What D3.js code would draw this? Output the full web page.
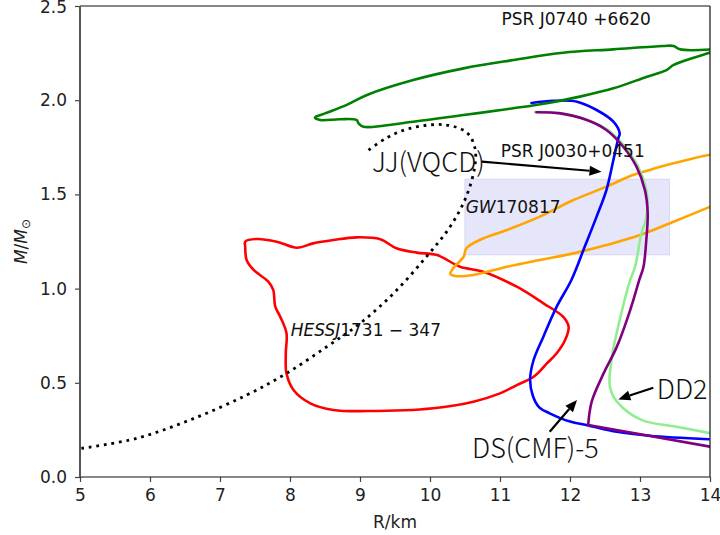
<!DOCTYPE html>
<html><head><meta charset="utf-8">
<script src="https://cdn.jsdelivr.net/npm/d3@7"></script>
<style>
body{margin:0;background:#fff;}
svg{display:block;}
</style></head>
<body>
<svg id="chart" width="720" height="535"></svg>
<script>
// ---------------- data (R in km, M in solar masses) ----------------
const xTicks = [5, 6, 7, 8, 9, 10, 11, 12, 13, 14];
const yTicks = [0.0, 0.5, 1.0, 1.5, 2.0, 2.5];

const jjVQCD = [[5.02,0.152],[5.81,0.205],[6.62,0.31],[7.38,0.435],[7.95,0.55],[8.52,0.69],[9.0,0.815],[9.48,0.975],[9.95,1.17],[10.29,1.33],[10.52,1.49],[10.64,1.65],[10.64,1.75],[10.52,1.83],[10.19,1.87],[9.71,1.85],[9.38,1.80],[9.07,1.72]];

const psrJ0740 = [[14.05,2.27],[13.57,2.27],[13.48,2.288],[13.33,2.288],[12.62,2.27],[11.90,2.252],[11.19,2.213],[10.48,2.169],[9.76,2.107],[9.10,2.028],[8.81,1.975],[8.50,1.93],[8.357,1.909],[8.43,1.895],[8.71,1.899],[8.95,1.895],[8.98,1.877],[9.05,1.859],[9.76,1.886],[10.48,1.921],[11.19,1.957],[11.67,1.984],[12.14,2.019],[12.62,2.063],[13.10,2.125],[13.38,2.16],[13.48,2.187],[13.98,2.25],[14.05,2.258]];

const psrJ0030 = [[14.05,1.712],[13.98,1.709],[13.48,1.665],[13.14,1.63],[12.90,1.603],[12.52,1.541],[12.05,1.470],[11.57,1.382],[11.10,1.311],[10.71,1.258],[10.52,1.214],[10.48,1.169],[10.33,1.108],[10.29,1.078],[10.36,1.067],[10.62,1.072],[11.10,1.116],[11.57,1.152],[12.05,1.187],[12.52,1.231],[13.0,1.284],[13.48,1.355],[13.98,1.431],[14.05,1.441]];

const hess = [[7.36,1.249],[7.52,1.263],[7.81,1.249],[8.10,1.217],[8.33,1.240],[8.62,1.258],[8.95,1.272],[9.29,1.262],[9.52,1.214],[9.81,1.191],[10.10,1.178],[10.43,1.116],[10.76,1.090],[11.24,1.01],[11.62,0.922],[11.90,0.851],[11.98,0.798],[11.93,0.727],[11.81,0.657],[11.67,0.603],[11.48,0.532],[11.24,0.488],[11.0,0.444],[10.62,0.40],[10.05,0.365],[9.10,0.350],[8.62,0.356],[8.29,0.391],[8.05,0.462],[7.95,0.55],[7.94,0.657],[7.95,0.763],[7.86,0.851],[7.79,0.904],[7.76,0.993],[7.69,1.037],[7.48,1.099],[7.38,1.152],[7.36,1.222]];

const dd2 = [[11.50,1.937],[11.86,1.932],[12.24,1.897],[12.53,1.845],[12.78,1.755],[12.97,1.65],[13.08,1.54],[13.11,1.46],[13.08,1.36],[13.02,1.293],[12.93,1.116],[12.86,1.046],[12.71,0.833],[12.60,0.639],[12.57,0.479],[12.67,0.40],[13.02,0.303],[13.52,0.267],[14.0,0.233]];

const dsCMF5 = [[11.45,1.985],[11.76,1.997],[12.10,1.992],[12.38,1.948],[12.62,1.886],[12.71,1.824],[12.69,1.798],[12.62,1.683],[12.52,1.523],[12.38,1.382],[12.21,1.222],[12.02,1.046],[11.81,0.904],[11.62,0.745],[11.48,0.621],[11.43,0.515],[11.47,0.430],[11.56,0.370],[11.71,0.338],[12.0,0.294],[12.26,0.274],[12.67,0.240],[13.14,0.219],[13.98,0.200]];

const purpleEOS = [[11.52,1.936],[11.86,1.930],[12.24,1.895],[12.52,1.842],[12.76,1.753],[12.95,1.647],[13.07,1.523],[13.11,1.40],[13.09,1.258],[13.05,1.116],[12.99,1.046],[12.86,0.886],[12.67,0.692],[12.48,0.55],[12.31,0.40],[12.26,0.276],[14.0,0.161]];

const gwBox = {r0: 10.5, r1: 13.42, m0: 1.18, m1: 1.58};

const labels = [
  {text: "PSR J0740 +6620", r: 11.02, m: 2.399, kind: "plain"},
  {text: "PSR J0030+0451", r: 11.01, m: 1.70, kind: "plain"},
  {text: "JJ(VQCD)", r: 9.17, m: 1.62, kind: "big"},
  {text: "DD2", r: 13.24, m: 0.412, kind: "big"},
  {text: "DS(CMF)-5", r: 10.60, m: 0.099, kind: "big"}
];
const arrows = [
  {from: [10.74, 1.674], to: [12.45, 1.62]},
  {from: [13.19, 0.474], to: [12.69, 0.412]},
  {from: [11.71, 0.240], to: [12.10, 0.409]}
];

// ---------------- layout ----------------
const svg = d3.select("#chart");
const L = 80, R = 710, T = 6, B = 477;
const x = d3.scaleLinear().domain([5, 14]).range([L, R]);
const y = d3.scaleLinear().domain([0, 2.5]).range([B, T]);

svg.append("defs").append("clipPath").attr("id", "clip")
  .append("rect").attr("x", L).attr("y", T).attr("width", R - L).attr("height", B - T);

const plot = svg.append("g").attr("clip-path", "url(#clip)");

// GW170817 band
plot.append("rect")
  .attr("x", x(gwBox.r0)).attr("y", y(gwBox.m1))
  .attr("width", x(gwBox.r1) - x(gwBox.r0)).attr("height", y(gwBox.m0) - y(gwBox.m1))
  .attr("fill", "#e6e6fb").attr("stroke", "#d9d9f7").attr("stroke-width", 1.2);

const lineSmooth = d3.line().x(d => x(d[0])).y(d => y(d[1])).curve(d3.curveCatmullRom.alpha(0.5));
const lineClosed = d3.line().x(d => x(d[0])).y(d => y(d[1])).curve(d3.curveCatmullRomClosed.alpha(0.5));
const lineStraight = d3.line().x(d => x(d[0])).y(d => y(d[1]));

function draw(data, gen, color, extra) {
  const p = plot.append("path").attr("d", gen(data)).attr("fill", "none")
    .attr("stroke", color).attr("stroke-width", 2.6)
    .attr("stroke-linejoin", "round").attr("stroke-linecap", "round");
  if (extra) extra(p);
  return p;
}

draw(hess, lineClosed, "#ff0000");
draw(psrJ0030, lineSmooth, "#ffa500");
draw(dd2, lineSmooth, "#90ee90");
draw(dsCMF5, lineSmooth, "#0000ff");
draw(purpleEOS.slice(0, 16), lineSmooth, "#800080");
draw(purpleEOS.slice(15), lineStraight, "#800080");
draw(psrJ0740, lineSmooth, "#008000");
draw(jjVQCD, lineSmooth, "#000000", p => p.attr("stroke-dasharray", "2.8,4.8").attr("stroke-linecap", "butt").attr("stroke-width", 2.8));

// ---------------- axes ----------------
const xAxis = d3.axisBottom(x).tickValues(xTicks).tickFormat(d3.format("d")).tickSize(5).tickPadding(7);
const yAxis = d3.axisLeft(y).tickValues(yTicks).tickFormat(d3.format(".1f")).tickSize(5).tickPadding(8);

const gx = svg.append("g").attr("transform", `translate(0,${B})`).call(xAxis);
const gy = svg.append("g").attr("transform", `translate(${L},0)`).call(yAxis);
[gx, gy].forEach(g => {
  g.select(".domain").remove();
  g.selectAll(".tick line").attr("stroke", "#444").attr("stroke-width", 1.2);
  g.selectAll(".tick text").attr("fill", "#222").style("font-family", "DejaVu Sans").style("font-size", "17px");
});
gy.selectAll(".tick text").filter(d => d === 2.5).attr("dy", "0.37em");

// spines
svg.append("line").attr("x1", L).attr("x2", R).attr("y1", T).attr("y2", T).attr("stroke", "#111").attr("stroke-width", 1.2);
svg.append("line").attr("x1", L).attr("x2", R).attr("y1", B).attr("y2", B).attr("stroke", "#111").attr("stroke-width", 1.2);
svg.append("line").attr("x1", R).attr("x2", R).attr("y1", T).attr("y2", B).attr("stroke", "#111").attr("stroke-width", 1.2);
svg.append("line").attr("x1", L).attr("x2", L).attr("y1", T).attr("y2", B).attr("stroke", "#555").attr("stroke-width", 2);

// axis titles
svg.append("text").attr("x", (L + R) / 2).attr("y", 528).attr("text-anchor", "middle")
  .style("font-family", "DejaVu Sans").style("font-size", "17px").attr("fill", "#222").text("R/km");

const yl = svg.append("text").attr("transform", `translate(27,${(T + B) / 2}) rotate(-90)`)
  .attr("text-anchor", "middle").style("font-family", "DejaVu Sans").style("font-size", "17px").attr("fill", "#222");
yl.append("tspan").style("font-style", "italic").text("M");
yl.append("tspan").text("/");
yl.append("tspan").style("font-style", "italic").text("M");
yl.append("tspan").attr("dy", 3).style("font-size", "12px").text("\u2299");

// ---------------- annotations ----------------
labels.forEach(d => {
  const t = svg.append("text").attr("x", x(d.r)).attr("y", y(d.m)).attr("fill", "#111").text(d.text);
  if (d.kind === "plain") t.style("font-family", "DejaVu Sans").style("font-size", "17px");
  else t.style("font-family", "'Noto Sans CJK SC'").style("font-weight", 300).style("font-size", "27px");
});

const gw = svg.append("text").attr("x", x(10.51)).attr("y", y(1.40))
  .style("font-family", "DejaVu Sans").style("font-size", "17px").attr("fill", "#111");
gw.append("tspan").style("font-style", "italic").text("GW");
gw.append("tspan").text("170817");

const hs = svg.append("text").attr("x", x(8.01)).attr("y", y(0.748))
  .style("font-family", "DejaVu Sans").style("font-size", "17px").attr("fill", "#111");
hs.append("tspan").style("font-style", "italic").text("HESSJ");
hs.append("tspan").text("1731 \u2212 347");

arrows.forEach(a => {
  const x0 = x(a.from[0]), y0 = y(a.from[1]), x1 = x(a.to[0]), y1 = y(a.to[1]);
  const ang = Math.atan2(y1 - y0, x1 - x0);
  const hl = 12, hw = 5;
  const bx = x1 - hl * Math.cos(ang), by = y1 - hl * Math.sin(ang);
  svg.append("line").attr("x1", x0).attr("y1", y0).attr("x2", bx).attr("y2", by)
    .attr("stroke", "#000").attr("stroke-width", 2.2);
  const px = -Math.sin(ang) * hw, py = Math.cos(ang) * hw;
  svg.append("path").attr("d", `M${x1},${y1}L${bx + px},${by + py}L${bx - px},${by - py}Z`).attr("fill", "#000");
});
</script>
</body></html>
